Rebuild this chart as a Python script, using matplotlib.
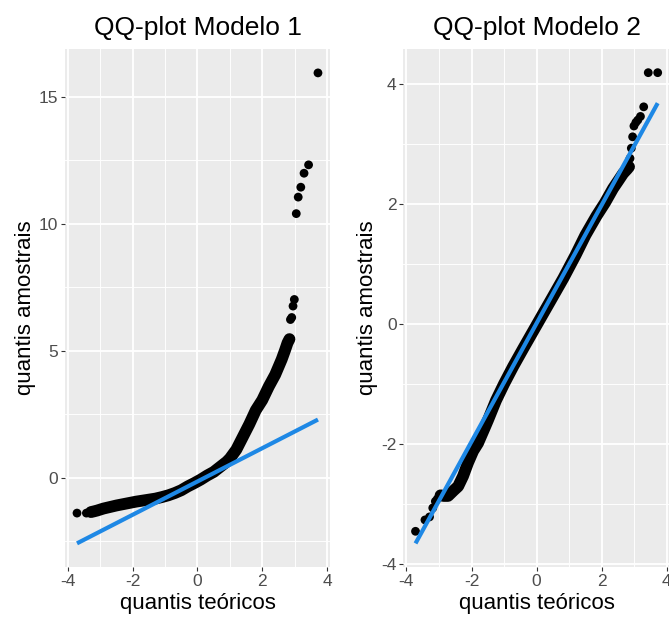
import matplotlib
matplotlib.use("Agg")
import matplotlib.pyplot as plt
import numpy as np

plt.rcParams["font.family"] = ["Liberation Sans", "DejaVu Sans"]
plt.rcParams["axes.unicode_minus"] = False

# ---- data (theoretical quantile, sample quantile) ----
# Modelo 1: dense band
m1_band_x = [-3.29, -3.19, -3.1, -2.9, -2.7, -2.5, -2.3, -2.1, -1.9, -1.7, -1.5, -1.3,
             -1.1, -0.9, -0.7, -0.5, -0.3, -0.1, 0.1, 0.3, 0.5, 0.7, 0.9, 1.0,
             1.2, 1.4, 1.6, 1.8, 2.0, 2.2, 2.4, 2.6, 2.7, 2.78, 2.84]
m1_band_y = [-1.36, -1.33, -1.30, -1.22, -1.16, -1.10, -1.05, -1.00, -0.95, -0.91, -0.87, -0.83,
             -0.77, -0.70, -0.61, -0.50, -0.35, -0.22, -0.08, 0.08, 0.22, 0.42, 0.62, 0.75,
             1.10, 1.60, 2.10, 2.65, 3.05, 3.58, 4.05, 4.65, 5.00, 5.30, 5.45]
# Modelo 1: isolated points in the tails
m1_tail_x = [-3.72, -3.43, 2.87, 2.91, 2.95, 2.99, 3.05, 3.11, 3.19, 3.29, 3.43, 3.72]
m1_tail_y = [-1.40, -1.40, 6.22, 6.30, 6.75, 7.01, 10.39, 11.04, 11.43, 11.98, 12.31, 15.93]
m1_slope, m1_intercept = 0.655, -0.155

# Modelo 2: dense band
m2_band_x = [-2.95, -2.85, -2.72, -2.55, -2.41, -2.26, -2.11, -1.95, -1.8, -1.6, -1.49,
             -1.25, -1.0, -0.72, -0.4, 0.0, 0.4, 0.82, 1.2, 1.5, 1.84, 2.1, 2.35,
             2.5, 2.66, 2.78, 2.84]
m2_band_y = [-2.86, -2.87, -2.87, -2.78, -2.71, -2.54, -2.32, -2.12, -1.99, -1.74, -1.60,
             -1.28, -1.00, -0.71, -0.40, -0.02, 0.36, 0.76, 1.15, 1.48, 1.80, 2.02, 2.26,
             2.38, 2.51, 2.58, 2.62]
# Modelo 2: isolated points in the tails
m2_tail_x = [-3.72, -3.43, -3.29, -3.19, -3.11, -3.05, -2.99,
             2.87, 2.91, 2.95, 2.99, 3.05, 3.11, 3.19, 3.29, 3.43, 3.72]
m2_tail_y = [-3.46, -3.27, -3.22, -3.07, -2.96, -2.92, -2.87,
             2.76, 2.93, 3.12, 3.30, 3.36, 3.40, 3.46, 3.62, 4.19, 4.19]
m2_slope, m2_intercept = 0.987, 0.01

titles = ["QQ-plot Modelo 1", "QQ-plot Modelo 2"]
xlabel = "quantis teóricos"
ylabel = "quantis amostrais"

panel_bg = "#EBEBEB"
line_blue = "#1E88E5"
tick_col = "#4D4D4D"


def gg_axes(ax, major_y, minor_y):
    ax.set_facecolor(panel_bg)
    for s in ax.spines.values():
        s.set_visible(False)
    ax.set_xticks([-4, -2, 0, 2, 4])
    ax.set_xticks([-3, -1, 1, 3], minor=True)
    ax.set_yticks(major_y)
    ax.set_yticks(minor_y, minor=True)
    ax.grid(which="major", color="white", lw=1.3)
    ax.grid(which="minor", color="white", lw=0.65)
    ax.set_axisbelow(True)
    ax.tick_params(which="major", length=3, width=0.8, color="#333333",
                   labelsize=12.5, labelcolor=tick_col, pad=2)
    ax.tick_params(which="minor", length=0)


def draw_qq(ax, bx, by, tx, ty, slope, intercept, title):
    ax.plot(bx, by, color="black", lw=8.5, solid_capstyle="round", zorder=2)
    ax.scatter(bx + tx, by + ty, s=40, color="black", edgecolors="none", zorder=3)
    all_x = np.array(bx + tx)
    lx = np.array([all_x.min(), all_x.max()])
    ax.plot(lx, intercept + slope * lx, color=line_blue, lw=3, zorder=4,
            solid_capstyle="butt")
    ax.set_title(title, fontsize=19, pad=10)
    ax.set_xlabel(xlabel, fontsize=16, labelpad=3)
    ax.set_ylabel(ylabel, fontsize=16, labelpad=2)


fig = plt.figure(figsize=(6.69, 6.23), dpi=100)
ax1 = fig.add_axes([0.0972, 0.0904, 0.396, 0.8305])
ax2 = fig.add_axes([0.6031, 0.0904, 0.398, 0.8305])

gg_axes(ax1, [0, 5, 10, 15], [-2.5, 2.5, 7.5, 12.5])
draw_qq(ax1, m1_band_x, m1_band_y, m1_tail_x, m1_tail_y, m1_slope, m1_intercept, titles[0])
ax1.set_xlim(-4.09, 4.09)
ax1.set_ylim(-3.51, 16.86)

gg_axes(ax2, [-4, -2, 0, 2, 4], [-3, -1, 1, 3])
draw_qq(ax2, m2_band_x, m2_band_y, m2_tail_x, m2_tail_y, m2_slope, m2_intercept, titles[1])
ax2.set_xlim(-4.09, 4.09)
ax2.set_ylim(-4.05, 4.58)

fig.savefig("out.png", dpi=100)
